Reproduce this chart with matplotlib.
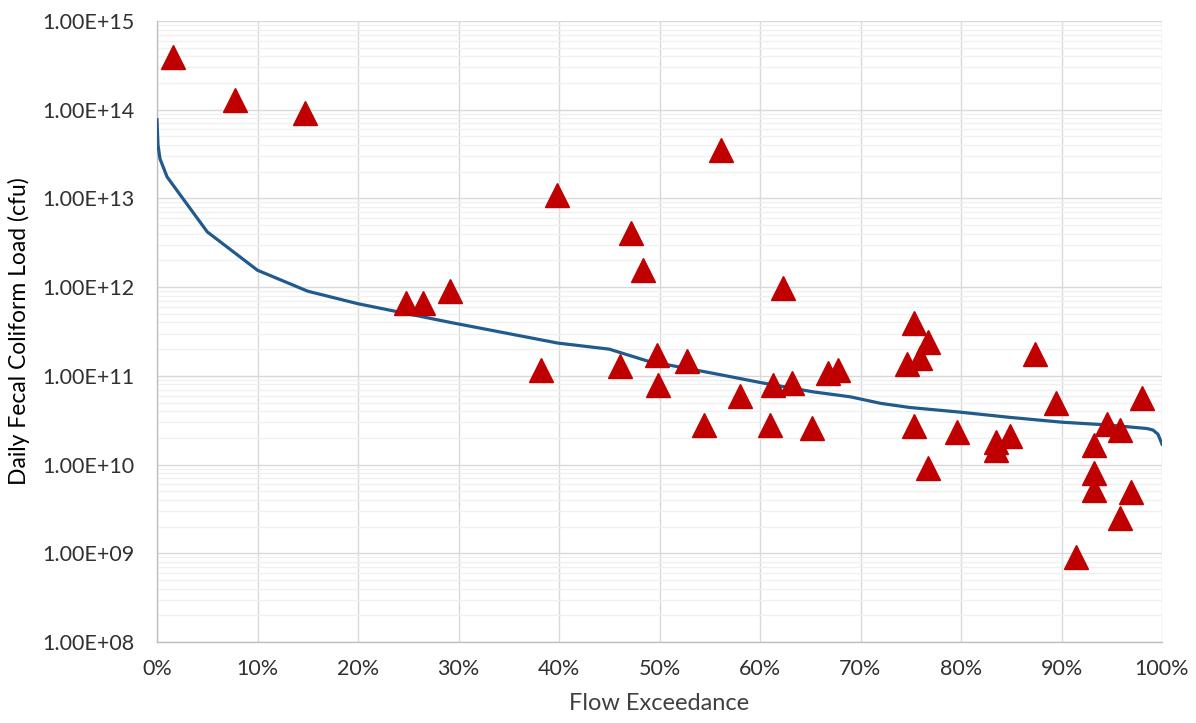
import matplotlib
matplotlib.use("Agg")
import matplotlib.pyplot as plt
from matplotlib.ticker import FixedLocator, FuncFormatter, LogLocator, NullFormatter

# Flow duration curve (exceedance fraction, load cfu/day)
curve_x = [0.0, 0.001, 0.003, 0.01, 0.05, 0.10, 0.15, 0.20, 0.292, 0.321, 0.399, 0.45,
           0.488, 0.553, 0.603, 0.653, 0.69, 0.72, 0.749, 0.799, 0.849, 0.901, 0.945,
           0.985, 0.991, 0.996, 1.0]
curve_y = [7.7e13, 4.0e13, 2.8e13, 1.75e13, 4.2e12, 1.55e12, 9.0e11, 6.5e11, 4.0e11, 3.46e11,
           2.34e11, 2.0e11, 1.47e11, 1.07e11, 8.3e10, 6.6e10, 5.8e10, 4.9e10, 4.4e10, 3.9e10,
           3.4e10, 3.0e10, 2.8e10, 2.55e10, 2.45e10, 2.2e10, 1.7e10]

# Observed loads
obs_x = [0.016, 0.078, 0.147, 0.248, 0.265, 0.292, 0.382, 0.398, 0.472, 0.484, 0.461,
         0.498, 0.499, 0.527, 0.561, 0.544, 0.580, 0.613, 0.610, 0.623, 0.632, 0.652,
         0.668, 0.678, 0.753, 0.767, 0.759, 0.746, 0.874, 0.753, 0.796, 0.767, 0.835,
         0.835, 0.849, 0.895, 0.980, 0.945, 0.958, 0.932, 0.932, 0.932, 0.969, 0.958, 0.914]
obs_y = [3.9e14, 1.29e14, 9.2e13, 6.6e11, 6.6e11, 9.0e11, 1.16e11, 1.09e13, 4.1e12, 1.57e12,
         1.29e11, 1.71e11, 7.9e10, 1.47e11, 3.5e13, 2.8e10, 5.9e10, 7.9e10, 2.8e10, 9.8e11,
         8.3e10, 2.6e10, 1.08e11, 1.16e11, 3.94e11, 2.4e11, 1.58e11, 1.36e11, 1.76e11, 2.7e10,
         2.3e10, 9.1e9, 1.8e10, 1.45e10, 2.1e10, 4.9e10, 5.6e10, 2.9e10, 2.45e10, 1.66e10,
         8.0e9, 5.2e9, 4.9e9, 2.5e9, 9.1e8]

x_ticks = [0.0, 0.1, 0.2, 0.3, 0.4, 0.5, 0.6, 0.7, 0.8, 0.9, 1.0]
y_ticks = [1e8, 1e9, 1e10, 1e11, 1e12, 1e13, 1e14, 1e15]
y_labels = ["1.00E+08", "1.00E+09", "1.00E+10", "1.00E+11", "1.00E+12",
            "1.00E+13", "1.00E+14", "1.00E+15"]

plt.rcParams['font.family'] = ['Lato', 'DejaVu Sans']

fig = plt.figure(figsize=(11.96, 7.23), dpi=100)
ax = fig.add_axes([157/1196, 81/723, 1005/1196, 621/723])

ax.set_yscale('log')
ax.set_xlim(0, 1)
ax.set_ylim(1e8, 1e15)

ax.plot(curve_x, curve_y, color='#215A8C', lw=2.3, zorder=3, solid_joinstyle='round')
ax.plot(obs_x, obs_y, linestyle='none', marker='^', markersize=17,
        color='#C00000', markeredgecolor='#C00000', zorder=4, clip_on=False)

ax.xaxis.set_major_locator(FixedLocator(x_ticks))
ax.xaxis.set_major_formatter(FuncFormatter(lambda v, p: f"{v*100:.0f}%"))
ax.yaxis.set_major_locator(FixedLocator(y_ticks))
ax.set_yticklabels(y_labels)
ax.yaxis.set_minor_locator(LogLocator(base=10, subs=range(2, 10), numticks=50))
ax.yaxis.set_minor_formatter(NullFormatter())

ax.grid(True, which='major', axis='both', color='#D9D9D9', lw=1.0, zorder=0)
ax.grid(True, which='minor', axis='y', color='#F0F0F0', lw=1.0, zorder=0)
ax.set_axisbelow(True)

for s in ['top', 'right']:
    ax.spines[s].set_visible(False)
for s in ['left', 'bottom']:
    ax.spines[s].set_color('#BFBFBF')
    ax.spines[s].set_linewidth(1.0)

ax.tick_params(axis='both', which='both', length=0, labelsize=15.5, colors='#303030')
ax.tick_params(axis='x', pad=12)
ax.tick_params(axis='y', pad=16)

ax.set_xlabel("Flow Exceedance", fontsize=17, color='#404040', labelpad=10)
ax.set_ylabel("Daily Fecal Coliform Load (cfu)", fontsize=16.5, color='#000000', labelpad=9)

fig.savefig("out.png", dpi=100)
